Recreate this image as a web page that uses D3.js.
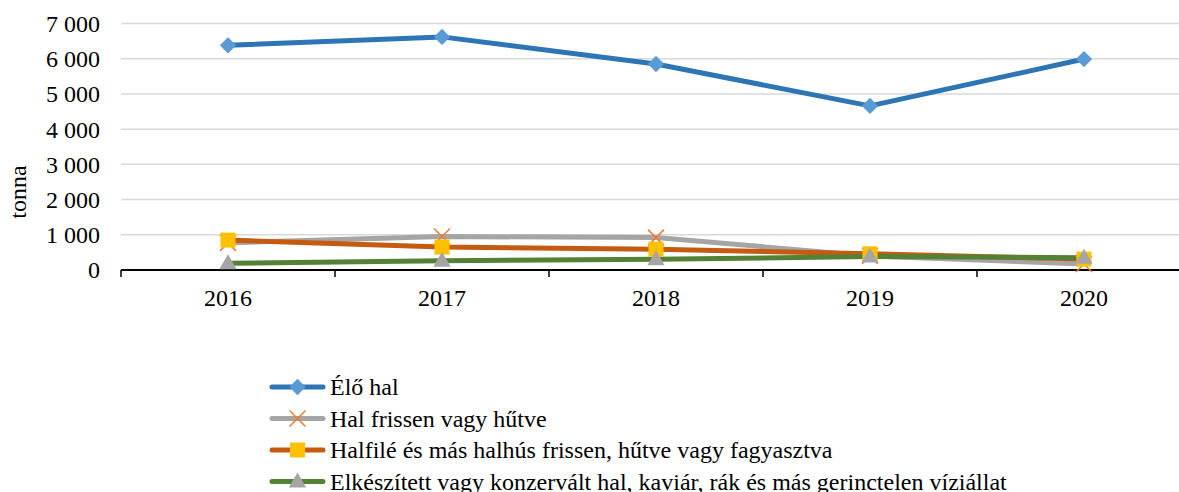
<!DOCTYPE html>
<html>
<head>
<meta charset="utf-8">
<script src="https://cdn.jsdelivr.net/npm/d3@7"></script>
<style>
body{margin:0;background:#fff;}
</style>
</head>
<body>
<div id="chart"></div>
<script>
var years=["2016","2017","2018","2019","2020"]
var eloHal=[6380,6620,5850,4660,5990]
var halFrissen=[770,950,920,400,170]
var halfile=[850,650,590,460,310]
var elkeszitett=[190,265,305,380,350]
var yTicks=[0,1000,2000,3000,4000,5000,6000,7000]

var series=[
	{name:"Élő hal",values:eloHal,line:"#2E75B6",marker:"diamond",mcolor:"#5B9BD5"},
	{name:"Hal frissen vagy hűtve",values:halFrissen,line:"#A5A5A5",marker:"x",mcolor:"#ED7D31"},
	{name:"Halfilé és más halhús frissen, hűtve vagy fagyasztva",values:halfile,line:"#C55A11",marker:"square",mcolor:"#FFC000"},
	{name:"Elkészített vagy konzervált hal, kaviár, rák és más gerinctelen víziállat",values:elkeszitett,line:"#538135",marker:"triangle",mcolor:"#A5A5A5"}
]

var FONT="'Liberation Serif', Tinos, 'Times New Roman', 'DejaVu Serif', serif"
var FS="24px"
var width=1179,height=492
var svg=d3.select("#chart").append("svg").attr("width",width).attr("height",height)
	.attr("font-family",FONT)

var x=d3.scaleBand().domain(years).range([121,1191])
var y=d3.scaleLinear().domain([0,7000]).range([270,23.5])

// gridlines
svg.append("g").selectAll("line").data(yTicks.slice(1)).enter().append("line")
	.attr("x1",121).attr("x2",1191)
	.attr("y1",function(d){return y(d)}).attr("y2",function(d){return y(d)})
	.attr("stroke","#D9D9D9").attr("stroke-width",1.5)

// y axis labels
svg.append("g").selectAll("text").data(yTicks).enter().append("text")
	.attr("x",100).attr("y",function(d){return y(d)}).attr("dy","0.35em")
	.attr("text-anchor","end").attr("font-family",FONT).style("font-size",FS)
	.text(function(d){return d3.format(",")(d).replace(","," ")})

svg.append("text").attr("transform","translate(26,192) rotate(-90)")
	.attr("text-anchor","middle").attr("font-family",FONT).style("font-size",FS).text("tonna")

// x axis
var xAxis=d3.axisBottom(x).tickSize(0).tickPadding(0)
var gx=svg.append("g").attr("transform","translate(0,270)").call(xAxis)
	.attr("font-family",FONT).attr("font-size",24)
gx.select(".domain").remove()
gx.selectAll("text").attr("y",28).attr("dy","0.35em").attr("fill","#000")
svg.append("line").attr("x1",121).attr("x2",1191).attr("y1",270).attr("y2",270).attr("stroke","#000").attr("stroke-width",1.8)
var bounds=years.map(function(d){return x(d)}).concat([x.range()[1]])
svg.append("g").selectAll("line").data(bounds).enter().append("line")
	.attr("x1",function(d){return d}).attr("x2",function(d){return d})
	.attr("y1",270).attr("y2",277).attr("stroke","#000").attr("stroke-width",1.5)

var cx=function(i){return x(years[i])+x.bandwidth()/2}

var line=d3.line().x(function(d,i){return cx(i)}).y(function(d){return y(d)})

series.forEach(function(s){
	svg.append("path").datum(s.values).attr("d",line)
		.attr("fill","none").attr("stroke",s.line).attr("stroke-width",5)
		.attr("stroke-linejoin","round").attr("stroke-linecap","round")
})

function drawMarker(g,type,color,px,py){
	if(type=="diamond"){
		g.append("path").attr("d",d3.symbol().type(d3.symbolDiamond2).size(170)()).attr("transform","translate("+px+","+py+")")
			.attr("fill",color)
	}
	if(type=="x"){
		g.append("path").attr("d","M-8,-8L8,8M-8,8L8,-8").attr("transform","translate("+px+","+py+")")
			.attr("stroke",color).attr("stroke-width",1.5).attr("fill","none")
	}
	if(type=="square"){
		g.append("rect").attr("x",px-7.5).attr("y",py-7.5).attr("width",15).attr("height",15).attr("fill",color)
	}
	if(type=="triangle"){
		g.append("path").attr("d",d3.symbol().type(d3.symbolTriangle).size(130)()).attr("transform","translate("+px+","+(py+1)+")")
			.attr("fill",color)
	}
}

series.forEach(function(s){
	var g=svg.append("g")
	s.values.forEach(function(v,i){drawMarker(g,s.marker,s.mcolor,cx(i),y(v))})
})

// legend
var leg=svg.append("g")
series.forEach(function(s,i){
	var ly=387+i*31.5
	leg.append("line").attr("x1",272).attr("x2",323).attr("y1",ly).attr("y2",ly)
		.attr("stroke",s.line).attr("stroke-width",5).attr("stroke-linecap","round")
	drawMarker(leg,s.marker,s.mcolor,297.5,ly)
	leg.append("text").attr("x",330).attr("y",ly).attr("dy","0.35em")
		.attr("font-family",FONT).style("font-size",FS).text(s.name)
})
</script>
</body>
</html>
